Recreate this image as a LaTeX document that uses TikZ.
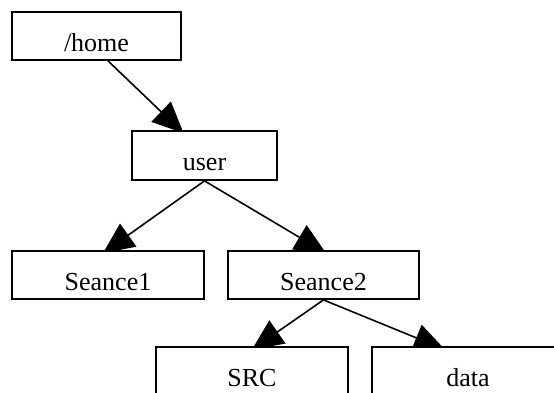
\documentclass[tikz,border=0pt]{standalone}
\usepackage{fontspec}
\setmainfont{Liberation Serif}
\usetikzlibrary{arrows.meta,calc,backgrounds}

\begin{document}
\begin{tikzpicture}[x=1pt,y=1pt,
    dirbox/.style={draw, line width=1.8pt, fill=white, inner sep=0pt,
        minimum height=48pt, text height=30pt, text depth=0pt,
        font=\fontsize{26}{30}\selectfont},
    link/.style={line width=1.6pt, -{Triangle[length=31pt,width=28pt]}}]
  \useasboundingbox (0,0) rectangle (554,392);
  \clip (0,0) rectangle (554,392);
  % directory boxes
  \node[dirbox, minimum width=169pt] (home) at (96.5,356) {/home};
  \node[dirbox, minimum width=145pt, minimum height=49pt] (user) at (204.5,236.5) {user};
  \node[dirbox, minimum width=192pt] (seance1) at (108,117) {Seance1};
  \node[dirbox, minimum width=191pt] (seance2) at (323.5,117) {Seance2};
  \node[dirbox, minimum width=192pt] (src) at (252,21) {SRC};
  \node[dirbox, minimum width=192pt] (data) at (468,21) {data};
  % links, tips hidden behind the boxes
  \begin{scope}[on background layer]
    \draw[link] ($(home.south)+(11.5,0)$) -- ($(user.north)+(-21,-3)$);
    \draw[link] (user.south) -- ($(seance1.north)+(-5,-3)$);
    \draw[link] (user.south) -- ($(seance2.north)+(2.5,-3)$);
    \draw[link] (seance2.south) -- ($(src.north)+(0,-3.5)$);
    \draw[link] (seance2.south) -- ($(data.north)+(-23,-3.5)$);
  \end{scope}
\end{tikzpicture}
\end{document}
